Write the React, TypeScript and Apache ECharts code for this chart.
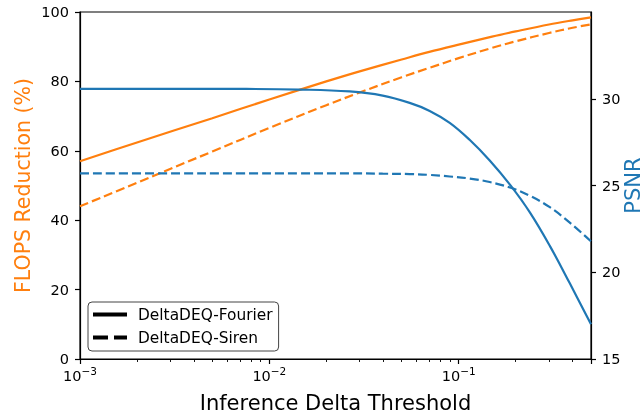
import React, { useEffect, useRef } from 'react';
import * as echarts from 'echarts';

// Inference delta thresholds (x, log scale) for the FLOPS curves
const thresholds = [0.001, 0.002, 0.005, 0.01, 0.02, 0.03, 0.05, 0.07, 0.1, 0.15, 0.2, 0.3, 0.4, 0.5];
// FLOPS reduction (%) - left axis
const flopsFourier = [57.0, 62.4, 69.4, 74.8, 80.0, 82.9, 86.3, 88.5, 90.6, 92.9, 94.4, 96.4, 97.6, 98.45];
const flopsSiren = [44.0, 50.8, 59.8, 66.6, 73.15, 76.8, 81.2, 83.9, 86.7, 89.65, 91.55, 93.95, 95.45, 96.45];
// Thresholds for the PSNR curves
const psnrThresholds = [0.001, 0.003, 0.007, 0.01445, 0.02655, 0.0397, 0.0551, 0.0703, 0.0897, 0.1146, 0.1459, 0.1884, 0.2377, 0.303, 0.3864, 0.5];
// PSNR - right axis
const psnrFourier = [30.57, 30.57, 30.565, 30.53, 30.42, 30.18, 29.76, 29.3, 28.61, 27.62, 26.44, 24.99, 23.45, 21.52, 19.36, 17.0];
const psnrSiren = [25.7, 25.7, 25.7, 25.7, 25.7, 25.68, 25.66, 25.61, 25.52, 25.4, 25.2, 24.87, 24.41, 23.75, 22.86, 21.78];

const seriesNames = ['DeltaDEQ-Fourier', 'DeltaDEQ-Siren'];
const psnrTicks = [15, 20, 25, 30];
const minorMultipliers = [2, 3, 4, 5, 6, 7, 8, 9];
const decades = [0.001, 0.01, 0.1];

const ORANGE = '#ff7f0e';
const BLUE = '#1f77b4';
const FONT = 'DejaVu Sans';

export default function App() {
  const ref = useRef<HTMLDivElement>(null);
  useEffect(() => {
    if (!ref.current) return;
    const chart = echarts.init(ref.current, undefined, { renderer: 'svg' });
    const xMin = thresholds[0];
    const xMax = thresholds[thresholds.length - 1];
    const minorLog: number[] = [];
    decades.forEach((d) =>
      minorMultipliers.forEach((m) => {
        const v = d * m;
        if (v <= xMax + 1e-12) minorLog.push(Math.log10(v));
      })
    );
    const pairs = (xs: number[], ys: number[]) => xs.map((x, i) => [x, ys[i]]);
    const solidIcon = 'path://M0,0H34V4H0Z';
    const dashIcon = 'path://M0,0H15V4H0Z M21,0H34V4H21Z';

    chart.setOption({
      animation: false,
      textStyle: { fontFamily: FONT },
      grid: {
        left: 80,
        right: 52,
        top: 12,
        bottom: 57,
        show: true,
        borderColor: '#000',
        borderWidth: 1.2,
        backgroundColor: 'transparent',
        containLabel: false,
        outerBoundsMode: 'none',
      },
      legend: {
        orient: 'vertical',
        left: 88,
        top: 302,
        padding: [5, 6, 6, 5],
        itemGap: 8,
        itemWidth: 34,
        itemHeight: 4,
        borderColor: '#444',
        borderWidth: 1,
        borderRadius: 4,
        backgroundColor: '#fff',
        textStyle: { fontFamily: FONT, fontSize: 15.4, color: '#000', padding: [0, 0, 0, 6] },
        data: [
          { name: seriesNames[0], icon: solidIcon },
          { name: seriesNames[1], icon: dashIcon },
        ],
      },
      xAxis: [
        {
          type: 'log',
          logBase: 10,
          min: xMin,
          max: xMax,
          name: 'Inference Delta Threshold',
          nameLocation: 'middle',
          nameGap: 33,
          nameMoveOverlap: false,
          nameTextStyle: { fontFamily: FONT, fontSize: 21, color: '#000' },
          axisLine: { show: true, lineStyle: { color: '#000', width: 1.2 } },
          axisTick: { show: true, length: 5, lineStyle: { color: '#000', width: 1.2 } },
          splitLine: { show: false },
          axisLabel: {
            margin: 8,
            color: '#000',
            formatter: (v: number) => {
              const e = Math.log10(v);
              const r = Math.round(e);
              if (Math.abs(e - r) > 1e-6) return '';
              return `{b|10}{s|−${-r}}`;
            },
            rich: {
              b: { fontFamily: FONT, fontSize: 14.5, color: '#000', verticalAlign: 'bottom', lineHeight: 16 },
              s: { fontFamily: FONT, fontSize: 10.5, color: '#000', verticalAlign: 'bottom', lineHeight: 11, padding: [0, 0, 7, 0] },
            },
          },
        },
        {
          type: 'value',
          min: Math.log10(xMin),
          max: Math.log10(xMax),
          position: 'bottom',
          axisLine: { show: false },
          axisLabel: { show: false },
          splitLine: { show: false },
          axisTick: { show: true, length: 3, customValues: minorLog, lineStyle: { color: '#000', width: 0.9 } },
        },
      ],
      yAxis: [
        {
          type: 'value',
          min: 0,
          max: 100,
          interval: 20,
          position: 'left',
          name: 'FLOPS Reduction (%)',
          nameLocation: 'middle',
          nameGap: 47,
          nameMoveOverlap: false,
          nameTextStyle: { fontFamily: FONT, fontSize: 20.5, color: ORANGE },
          axisLine: { show: true, lineStyle: { color: '#000', width: 1.2 } },
          axisTick: { show: true, length: 5, lineStyle: { color: '#000', width: 1.2 } },
          splitLine: { show: false },
          axisLabel: { margin: 11, fontFamily: FONT, fontSize: 14.5, color: '#000' },
        },
        {
          type: 'value',
          min: 15,
          max: 35,
          interval: 5,
          position: 'right',
          name: 'PSNR',
          nameLocation: 'middle',
          nameGap: 31,
          nameMoveOverlap: false,
          nameTextStyle: { fontFamily: FONT, fontSize: 21, color: BLUE },
          axisLine: { show: true, lineStyle: { color: '#000', width: 1.2 } },
          axisTick: { show: true, length: 5, customValues: psnrTicks, lineStyle: { color: '#000', width: 1.2 } },
          splitLine: { show: false },
          axisLabel: { margin: 11, fontFamily: FONT, fontSize: 14.5, color: '#000', customValues: psnrTicks },
        },
      ],
      series: [
        {
          name: 'flopsFourier',
          type: 'line',
          xAxisIndex: 0,
          yAxisIndex: 0,
          data: pairs(thresholds, flopsFourier),
          showSymbol: false,
          smooth: 0.35,
          lineStyle: { color: ORANGE, width: 2.2, type: 'solid' },
          itemStyle: { color: ORANGE },
          z: 2,
        },
        {
          name: 'flopsSiren',
          type: 'line',
          xAxisIndex: 0,
          yAxisIndex: 0,
          data: pairs(thresholds, flopsSiren),
          showSymbol: false,
          smooth: 0.35,
          lineStyle: { color: ORANGE, width: 2.2, type: [9, 4] },
          itemStyle: { color: ORANGE },
          z: 2,
        },
        {
          name: 'psnrFourier',
          type: 'line',
          xAxisIndex: 0,
          yAxisIndex: 1,
          data: pairs(psnrThresholds, psnrFourier),
          showSymbol: false,
          smooth: 0.4,
          lineStyle: { color: BLUE, width: 2.2, type: 'solid' },
          itemStyle: { color: BLUE },
          z: 3,
        },
        {
          name: 'psnrSiren',
          type: 'line',
          xAxisIndex: 0,
          yAxisIndex: 1,
          data: pairs(psnrThresholds, psnrSiren),
          showSymbol: false,
          smooth: 0.4,
          lineStyle: { color: BLUE, width: 2.2, type: [9, 4] },
          itemStyle: { color: BLUE },
          z: 3,
        },
        {
          name: seriesNames[0],
          type: 'line',
          data: [],
          itemStyle: { color: '#000' },
          lineStyle: { color: '#000' },
        },
        {
          name: seriesNames[1],
          type: 'line',
          data: [],
          itemStyle: { color: '#000' },
          lineStyle: { color: '#000', type: 'dashed' },
        },
      ],
    });
    return () => chart.dispose();
  }, []);
  return <div ref={ref} style={{ position: 'fixed', left: 0, top: 0, width: 643, height: 416 }} />;
}
